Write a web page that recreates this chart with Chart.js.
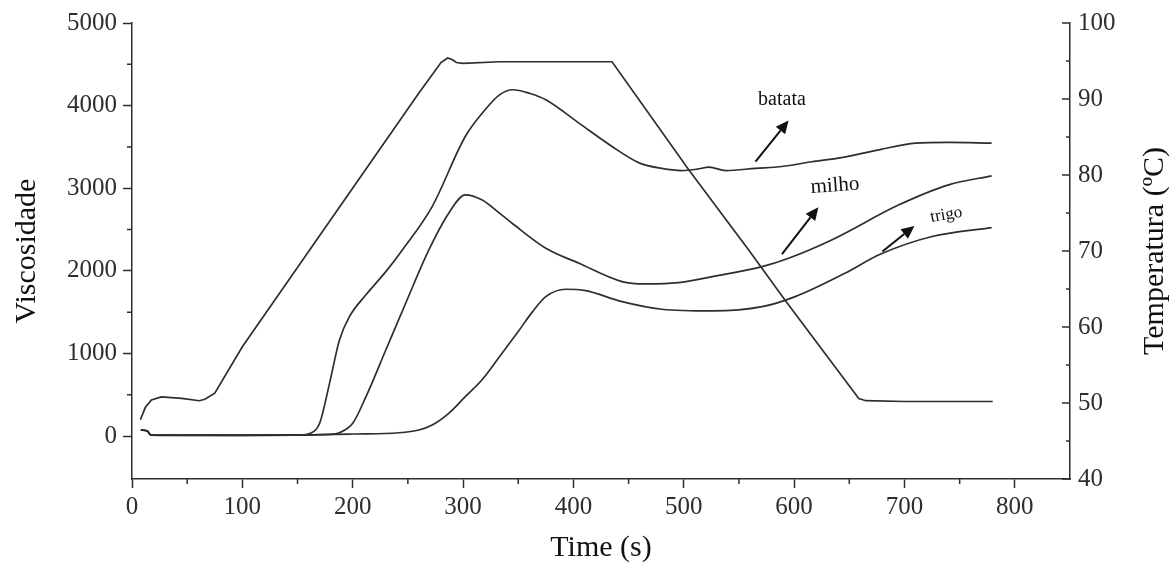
<!DOCTYPE html>
<html>
<head>
<meta charset="utf-8">
<script src="https://cdn.jsdelivr.net/npm/chart.js@4/dist/chart.umd.min.js"></script>
<style>
  html, body { margin: 0; padding: 0; background: #fff; }
  #wrap { width: 1172px; height: 568px; }
</style>
</head>
<body>
<div id="wrap"><canvas id="rvaChart"></canvas></div>
<script>
// Viscosity curves (RVA) for three starches + temperature profile

// time axis (s) for each series
const batataTime = [8, 14, 17, 60, 120, 155, 161, 170, 179, 188, 197, 212, 230, 245, 272, 302, 320, 333, 345, 360, 375, 405, 435, 460, 480, 498, 512, 523, 538, 565, 589, 616, 643, 677, 710, 740, 779];
const batataVisc = [75, 60, 12, 8, 10, 15, 30, 154, 638, 1163, 1445, 1710, 1990, 2253, 2778, 3626, 3950, 4130, 4192, 4150, 4071, 3788, 3505, 3304, 3240, 3214, 3230, 3255, 3214, 3240, 3263, 3320, 3370, 3465, 3546, 3555, 3546];

const milhoTime = [8, 14, 17, 100, 180, 188, 200, 212, 230, 248, 269, 287, 302, 317, 333, 345, 375, 405, 444, 465, 495, 526, 571, 595, 634, 695, 740, 779];
const milhoVisc = [75, 60, 12, 8, 20, 40, 154, 476, 1042, 1608, 2253, 2698, 2920, 2859, 2698, 2570, 2274, 2092, 1870, 1842, 1857, 1930, 2051, 2153, 2374, 2799, 3041, 3150];

const trigoTime = [8, 14, 17, 100, 160, 200, 242, 260, 272, 287, 302, 317, 333, 351, 363, 375, 393, 411, 444, 480, 526, 571, 601, 646, 678, 725, 779];
const trigoVisc = [75, 60, 12, 10, 15, 25, 40, 73, 133, 275, 476, 678, 961, 1284, 1506, 1688, 1777, 1760, 1627, 1535, 1514, 1566, 1688, 1971, 2200, 2415, 2524];

const tempTime = [7.6, 12, 17.6, 26.6, 45, 61, 66, 75, 100, 160.8, 260, 280, 286, 290, 294, 300, 333, 435, 504.5, 559, 592, 658.6, 665, 700, 780];
const tempValue = [47.8, 49.4, 50.4, 50.8, 50.6, 50.3, 50.5, 51.3, 57.4, 70.1, 90.8, 94.8, 95.4, 95.2, 94.8, 94.7, 94.9, 94.9, 80.7, 70.1, 63.5, 50.6, 50.3, 50.2, 50.2];

// tick marks
const xMajor = [0, 100, 200, 300, 400, 500, 600, 700, 800];
const xMinor = [50, 150, 250, 350, 450, 550, 650, 750];
const yMajor = [0, 1000, 2000, 3000, 4000, 5000];
const yMinor = [500, 1500, 2500, 3500, 4500];
const tMajor = [40, 50, 60, 70, 80, 90, 100];
const tMinor = [45, 55, 65, 75, 85, 95];

// curve labels and arrows (data coordinates)
const labelTexts = ['batata', 'milho', 'trigo'];
const labelPos = [[589, 4071], [637, 3029], [738, 2677]];
const labelSize = [20, 21, 17];
const labelRot = [0, -4, -10];
const arrowFrom = [[565, 3323], [589, 2201], [680, 2233]];
const arrowTo = [[595, 3820], [622, 2771], [709, 2544]];

const ink = '#2e2e2e';
const serif = "'Liberation Serif', 'Times New Roman', serif";
const rightTitle = 'Temperatura (ºC)';

function pts(xs, ys) {
    return xs.map((x, i) => ({ x: x, y: ys[i] }));
}

// minor ticks + inward ticks of the right axis + right title (bottom-to-top)
const tickMarks = {
    id: 'tickMarks',
    afterDraw(chart) {
        const { ctx, chartArea: a, scales: { x, y, y1 } } = chart;
        ctx.save();
        ctx.strokeStyle = ink;
        ctx.lineWidth = 1.5;
        ctx.beginPath();
        xMinor.forEach(v => {
            const px = x.getPixelForValue(v);
            ctx.moveTo(px, a.bottom); ctx.lineTo(px, a.bottom + 5);
        });
        yMinor.forEach(v => {
            const py = y.getPixelForValue(v);
            ctx.moveTo(a.left, py); ctx.lineTo(a.left - 5, py);
        });
        tMajor.forEach(v => {
            const py = y1.getPixelForValue(v);
            ctx.moveTo(a.right, py); ctx.lineTo(a.right - 8, py);
        });
        tMinor.forEach(v => {
            const py = y1.getPixelForValue(v);
            ctx.moveTo(a.right, py); ctx.lineTo(a.right - 4, py);
        });
        ctx.stroke();

        ctx.translate(y1.right - 17, (a.top + a.bottom) / 2);
        ctx.rotate(-Math.PI / 2);
        ctx.font = '30px ' + serif;
        ctx.fillStyle = '#111';
        ctx.textAlign = 'center';
        ctx.textBaseline = 'middle';
        ctx.fillText(rightTitle, 0, 0);
        ctx.restore();
    }
};

// text labels and arrows
const curveLabels = {
    id: 'curveLabels',
    afterDatasetsDraw(chart) {
        const { ctx, scales: { x, y } } = chart;
        ctx.save();
        ctx.fillStyle = '#111';
        ctx.strokeStyle = '#111';
        labelTexts.forEach((txt, i) => {
            const px = x.getPixelForValue(labelPos[i][0]);
            const py = y.getPixelForValue(labelPos[i][1]);
            ctx.save();
            ctx.translate(px, py);
            ctx.rotate(labelRot[i] * Math.PI / 180);
            ctx.font = labelSize[i] + 'px ' + serif;
            ctx.textAlign = 'center';
            ctx.textBaseline = 'middle';
            ctx.fillText(txt, 0, 0);
            ctx.restore();

            const x0 = x.getPixelForValue(arrowFrom[i][0]);
            const y0 = y.getPixelForValue(arrowFrom[i][1]);
            const x1 = x.getPixelForValue(arrowTo[i][0]);
            const y1p = y.getPixelForValue(arrowTo[i][1]);
            const ang = Math.atan2(y1p - y0, x1 - x0);
            const head = 13, half = 6;
            const bx = x1 - head * Math.cos(ang);
            const by = y1p - head * Math.sin(ang);
            ctx.lineWidth = 2;
            ctx.beginPath();
            ctx.moveTo(x0, y0);
            ctx.lineTo(bx, by);
            ctx.stroke();
            ctx.beginPath();
            ctx.moveTo(x1, y1p);
            ctx.lineTo(bx + half * Math.sin(ang), by - half * Math.cos(ang));
            ctx.lineTo(bx - half * Math.sin(ang), by + half * Math.cos(ang));
            ctx.closePath();
            ctx.fill();
        });
        ctx.restore();
    }
};

function lineSet(label, data, axis, smooth) {
    return {
        label: label,
        data: data,
        yAxisID: axis,
        borderColor: ink,
        borderWidth: 1.7,
        pointRadius: 0,
        fill: false,
        tension: 0,
        cubicInterpolationMode: smooth ? 'monotone' : 'default'
    };
}

const tickFont = { family: serif, size: 25 };
const titleFont = { family: serif, size: 30 };

new Chart(document.getElementById('rvaChart'), {
    type: 'line',
    data: {
        datasets: [
            lineSet('batata', pts(batataTime, batataVisc), 'y', true),
            lineSet('milho', pts(milhoTime, milhoVisc), 'y', true),
            lineSet('trigo', pts(trigoTime, trigoVisc), 'y', true),
            lineSet('Temperatura', pts(tempTime, tempValue), 'y1', false)
        ]
    },
    options: {
        responsive: true,
        maintainAspectRatio: false,
        animation: false,
        layout: { padding: { top: 23, left: 0, right: 0, bottom: 0 } },
        plugins: {
            legend: { display: false },
            tooltip: { enabled: false }
        },
        scales: {
            x: {
                type: 'linear',
                min: 0,
                max: 850,
                afterBuildTicks: s => { s.ticks = xMajor.map(v => ({ value: v })); },
                afterFit: s => { s.height = 89; },
                ticks: { font: tickFont, color: ink, padding: 4, maxRotation: 0, callback: v => String(v) },
                grid: { drawOnChartArea: false, tickLength: 9, tickColor: ink, tickWidth: 1.5 },
                border: { color: ink, width: 1.5 },
                title: { display: true, text: 'Time (s)', font: titleFont, color: '#111', padding: { top: 0, bottom: 2 } }
            },
            y: {
                position: 'left',
                min: -520,
                max: 5000,
                afterBuildTicks: s => { s.ticks = yMajor.map(v => ({ value: v })); },
                afterFit: s => { s.width = 132; },
                ticks: { font: tickFont, color: ink, padding: 6, callback: v => String(v) },
                grid: { drawOnChartArea: false, tickLength: 9, tickColor: ink, tickWidth: 1.5 },
                border: { color: ink, width: 1.5 },
                title: { display: true, text: 'Viscosidade', font: titleFont, color: '#111', padding: { top: 9, bottom: 0 } }
            },
            y1: {
                position: 'right',
                min: 40,
                max: 100,
                afterBuildTicks: s => { s.ticks = tMajor.map(v => ({ value: v })); },
                afterFit: s => { s.width = 102; },
                ticks: { font: tickFont, color: ink, padding: 8, callback: v => String(v) },
                grid: { drawOnChartArea: false, drawTicks: false },
                border: { color: ink, width: 1.5 },
                title: { display: false }
            }
        }
    },
    plugins: [tickMarks, curveLabels]
});
</script>
</body>
</html>
